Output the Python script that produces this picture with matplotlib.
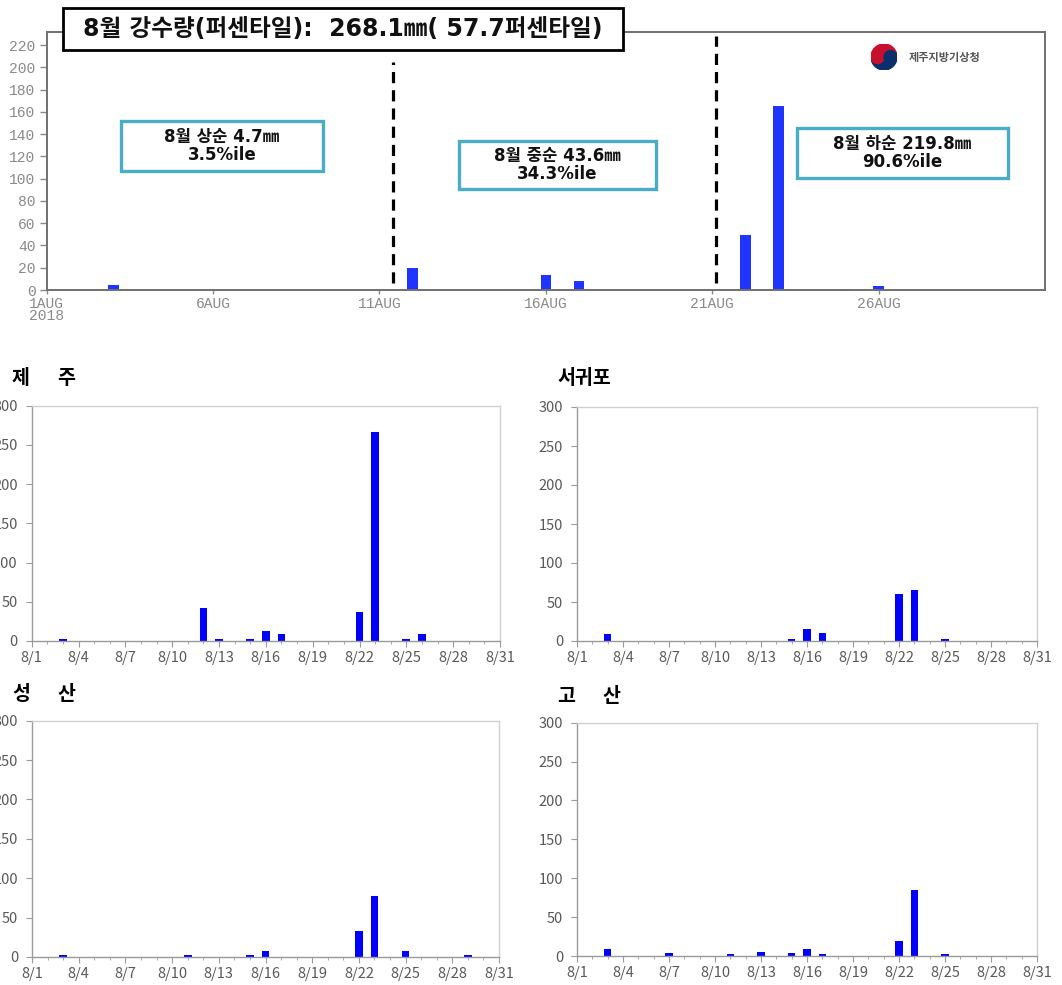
import numpy as np
import matplotlib
matplotlib.use('Agg')
import matplotlib.pyplot as plt
from matplotlib.patches import Rectangle, Wedge, Circle

plt.rcParams['font.family'] = ['Noto Sans CJK KR', 'DejaVu Sans']

W, H = 1062, 985

# 상단: 제주 지역 8월 일강수량
top_days = [3, 12, 15, 16, 17, 22, 23, 25, 26]
top_rain = [4.5, 20, 0.5, 13.5, 8, 49, 165, 0.5, 3.5]
top_xticks = [1, 6, 11, 16, 21, 26]
top_xlabels = ['1AUG\n2018', '6AUG', '11AUG', '16AUG', '21AUG', '26AUG']
top_yticks = list(range(0, 221, 20))
dekad_bounds = [11.4, 21.1]
dekad_tops = [205, 228]

title_text = '8월 강수량(퍼센타일):  268.1㎜( 57.7퍼센타일)'
dekad_text = ['8월 상순 4.7㎜\n3.5%ile', '8월 중순 43.6㎜\n34.3%ile', '8월 하순 219.8㎜\n90.6%ile']

# 지점별 일강수량
station_names = ['제 주', '서귀포', '성 산', '고 산']
jeju_days = [3, 12, 13, 15, 16, 17, 22, 23, 25, 26]
jeju_rain = [2, 42, 2, 2, 12.5, 9, 37, 266, 2, 9]
seogwipo_days = [3, 15, 16, 17, 22, 23, 25]
seogwipo_rain = [9, 2, 15, 10, 60, 66, 2]
seongsan_days = [3, 11, 15, 16, 22, 23, 25, 29]
seongsan_rain = [2, 2, 2, 7, 33, 78, 7, 2]
gosan_days = [3, 7, 11, 13, 15, 16, 17, 22, 23, 25]
gosan_rain = [8.5, 4, 2.5, 5, 4, 9, 2.5, 19.5, 85.5, 2]
st_xticks = list(range(1, 32, 3))
st_xlabels = ['8/%d' % d for d in st_xticks]
st_yticks = list(range(0, 301, 50))

box_family = ['DejaVu Sans', 'Noto Sans CJK KR']


def box(l, t, r, b):
    # 픽셀 좌표 -> figure 좌표
    return [l / W, 1 - b / H, (r - l) / W, (b - t) / H]


def text_box(l, t, r, b, s, ec, lw, fs):
    x, y, w, h = box(l, t, r, b)
    fig.patches.append(Rectangle((x, y), w, h, transform=fig.transFigure,
                                 facecolor='white', edgecolor=ec, lw=lw, zorder=5))
    fig.text(x + w / 2, y + h / 2, s, ha='center', va='center', fontsize=fs,
             fontweight='bold', color='#111111', linespacing=1.0, zorder=6,
             family=box_family)


fig = plt.figure(figsize=(W / 100, H / 100), dpi=100)

# ---- 상단 그래프
ax = fig.add_axes(box(46.7, 31.7, 1045, 290))
ax.bar(top_days, top_rain, width=0.32, color='#1f35ff')
for xb, yt in zip(dekad_bounds, dekad_tops):
    ax.vlines(xb, 6, yt, colors='black', lw=2.3, linestyles=(0, (3.5, 2.2)))
ax.set_xlim(1, 31)
ax.set_ylim(0, 232)
ax.set_yticks(top_yticks)
ax.set_xticks(top_xticks)
ax.set_xticklabels(top_xlabels, linespacing=0.85)
for sp in ax.spines.values():
    sp.set_color('#707070')
    sp.set_linewidth(1.4)
ax.tick_params(axis='y', direction='out', length=5, width=1, color='#888888',
               labelcolor='#8a8a8a', labelsize=10.5, pad=3)
ax.tick_params(axis='x', direction='out', length=3, width=1, color='#888888',
               labelcolor='#8a8a8a', labelsize=10.5, pad=2)
for lab in ax.get_xticklabels() + ax.get_yticklabels():
    lab.set_family('Liberation Mono')

text_box(63, 8, 623, 50, title_text, 'black', 2.0, 17)
text_box(121, 121, 323, 171, dekad_text[0], '#4bacc6', 2.4, 12)
text_box(459, 141, 656, 189, dekad_text[1], '#4bacc6', 2.4, 12)
text_box(797, 128, 1008, 178, dekad_text[2], '#4bacc6', 2.4, 12)

# 로고
lax = fig.add_axes(box(870, 44, 898, 70))
lax.set_xlim(-1, 1)
lax.set_ylim(-1, 1)
lax.set_aspect('equal')
lax.axis('off')
lax.add_patch(Wedge((0, 0), 1, 0, 180, color='#c8102e'))
lax.add_patch(Wedge((0, 0), 1, 180, 360, color='#0b2f6b'))
lax.add_patch(Circle((-0.5, 0), 0.5, color='#c8102e'))
lax.add_patch(Circle((0.5, 0), 0.5, color='#0b2f6b'))
fig.text(909 / W, 1 - 58 / H, '제주지방기상청', fontsize=8, color='#555555',
         fontweight='bold', va='center', ha='left')

# ---- 지점별 그래프
panels = [
    (box(31.7, 405.7, 500, 641), jeju_days, jeju_rain, 12, 379),
    (box(577, 407, 1037, 641), seogwipo_days, seogwipo_rain, 557, 379),
    (box(32, 720.7, 499, 957), seongsan_days, seongsan_rain, 12, 695),
    (box(577, 722.7, 1037, 956), gosan_days, gosan_rain, 557, 697),
]

for name, (rect, days, rain, tx, ty) in zip(station_names, panels):
    a = fig.add_axes(rect)
    a.bar(days, rain, width=0.5, color='#0000ff')
    a.set_xlim(1, 31)
    a.set_ylim(0, 300)
    a.set_yticks(st_yticks)
    a.set_xticks(st_xticks)
    a.set_xticklabels(st_xlabels)
    a.set_xticks(range(1, 32), minor=True)
    a.spines['left'].set_color('#9a9a9a')
    a.spines['bottom'].set_color('#9a9a9a')
    a.spines['top'].set_color('#d0d0d0')
    a.spines['right'].set_color('#d0d0d0')
    for sp in a.spines.values():
        sp.set_linewidth(1.0)
    a.tick_params(axis='both', which='major', direction='out', length=4,
                  color='#9a9a9a', labelcolor='#595959', labelsize=10.5)
    a.tick_params(axis='y', pad=6)
    a.tick_params(axis='x', which='minor', direction='out', length=2, color='#9a9a9a')
    a.tick_params(axis='x', pad=3)
    # 지점명
    parts = name.split(' ')
    if len(parts) == 2:
        fig.text(tx / W, 1 - ty / H, parts[0], fontsize=14, fontweight='bold', va='center')
        fig.text((tx + 45) / W, 1 - ty / H, parts[1], fontsize=14, fontweight='bold', va='center')
    else:
        fig.text(tx / W, 1 - ty / H, name, fontsize=14, fontweight='bold', va='center')

fig.savefig('out.png', dpi=100)
